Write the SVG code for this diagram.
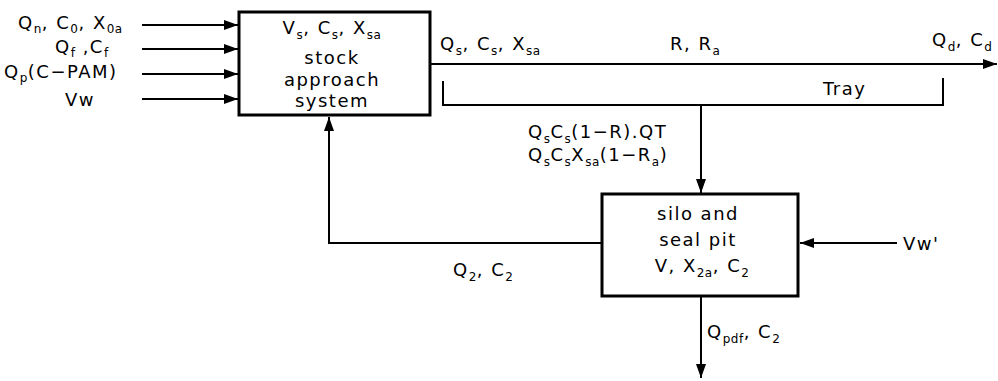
<svg xmlns="http://www.w3.org/2000/svg" width="998" height="381" viewBox="0 0 998 381">
<style>
text{font-family:"DejaVu Sans","Liberation Sans",sans-serif;font-size:18px;letter-spacing:1.5px;fill:#000}
.s{font-size:12px;letter-spacing:0.5px}
.box{fill:#fff;stroke:#000;stroke-width:3}
.ln{fill:none;stroke:#000;stroke-width:2}
</style>
<defs>
<marker id="ah" viewBox="0 0 10 10" refX="10" refY="5" markerWidth="14" markerHeight="10" markerUnits="userSpaceOnUse" orient="auto" preserveAspectRatio="none">
<path d="M0,0 L10,5 L0,10 z" fill="#000"/>
</marker>
</defs>
<g id="connectors">
<line class="ln" x1="142" y1="25" x2="238" y2="25" marker-end="url(#ah)"/>
<line class="ln" x1="142" y1="49" x2="238" y2="49" marker-end="url(#ah)"/>
<line class="ln" x1="142" y1="74" x2="238" y2="74" marker-end="url(#ah)"/>
<line class="ln" x1="142" y1="99" x2="238" y2="99" marker-end="url(#ah)"/>
<line class="ln" x1="431" y1="64" x2="997" y2="64" marker-end="url(#ah)"/>
<polyline class="ln" points="443,81 443,105 943,105 943,78"/>
<line class="ln" x1="701" y1="105" x2="701" y2="193" marker-end="url(#ah)"/>
<polyline class="ln" points="602,243 329,243 329,117" marker-end="url(#ah)"/>
<line class="ln" x1="897" y1="243" x2="800" y2="243" marker-end="url(#ah)"/>
<line class="ln" x1="701" y1="297" x2="701" y2="378" marker-end="url(#ah)"/>
</g>
<g id="labels">
<text x="18" y="29">Q<tspan class="s" dy="4">n</tspan><tspan dy="-4">, C</tspan><tspan class="s" dy="4">0</tspan><tspan dy="-4">, X</tspan><tspan class="s" dy="4">0a</tspan></text>
<text x="55" y="53">Q<tspan class="s" dy="4">f</tspan><tspan dy="-4"> ,C</tspan><tspan class="s" dy="4">f</tspan></text>
<text x="4" y="78">Q<tspan class="s" dy="4">p</tspan><tspan dy="-4">(C−PAM)</tspan></text>
<text x="65" y="106">Vw</text>
<text x="440" y="50">Q<tspan class="s" dy="5">s</tspan><tspan dy="-5">, C</tspan><tspan class="s" dy="5">s</tspan><tspan dy="-5">, X</tspan><tspan class="s" dy="5">sa</tspan></text>
<text x="670" y="50">R, R<tspan class="s" dy="5">a</tspan></text>
<text x="932" y="46">Q<tspan class="s" dy="5">d</tspan><tspan dy="-5">, C</tspan><tspan class="s" dy="5">d</tspan></text>
<text x="823" y="95">Tray</text>
<text x="528" y="138">Q<tspan class="s" dy="5">s</tspan><tspan dy="-5">C</tspan><tspan class="s" dy="5">s</tspan><tspan dy="-5">(1−R).QT</tspan></text>
<text x="528" y="161">Q<tspan class="s" dy="5">s</tspan><tspan dy="-5">C</tspan><tspan class="s" dy="5">s</tspan><tspan dy="-5">X</tspan><tspan class="s" dy="5">sa</tspan><tspan dy="-5">(1−R</tspan><tspan class="s" dy="5">a</tspan><tspan dy="-5">)</tspan></text>
<text x="453" y="276">Q<tspan class="s" dy="5">2</tspan><tspan dy="-5">, C</tspan><tspan class="s" dy="5">2</tspan></text>
<text x="903" y="250">Vw'</text>
<text x="707" y="338">Q<tspan class="s" dy="5">pdf</tspan><tspan dy="-5">, C</tspan><tspan class="s" dy="5">2</tspan></text>
</g>
<g id="stock">
<rect class="box" x="239" y="12" width="191" height="103"/>
<text x="332" y="34" text-anchor="middle">V<tspan class="s" dy="5">s</tspan><tspan dy="-5">, C</tspan><tspan class="s" dy="5">s</tspan><tspan dy="-5">, X</tspan><tspan class="s" dy="5">sa</tspan></text>
<text x="332" y="64" text-anchor="middle">stock</text>
<text x="332" y="86" text-anchor="middle">approach</text>
<text x="332" y="107" text-anchor="middle">system</text>
</g>
<g id="silo">
<rect class="box" x="602" y="194" width="196" height="102"/>
<text x="698" y="220" text-anchor="middle">silo and</text>
<text x="698" y="246" text-anchor="middle">seal pit</text>
<text x="702" y="272" text-anchor="middle">V, X<tspan class="s" dy="5">2a</tspan><tspan dy="-5">, C</tspan><tspan class="s" dy="5">2</tspan></text>
</g>
</svg>
